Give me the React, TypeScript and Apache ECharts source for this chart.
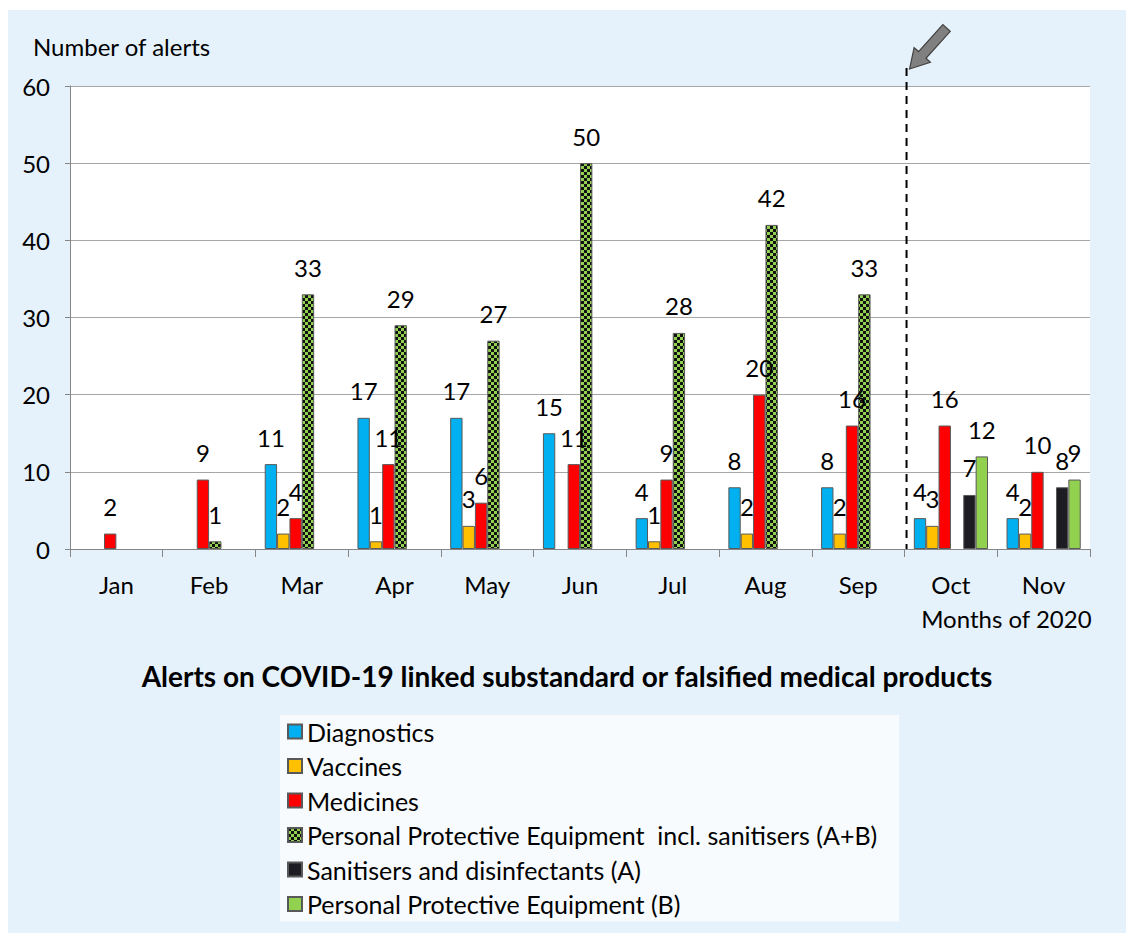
import React, { useEffect, useRef } from "react";
import * as echarts from "echarts";

const months = ["Jan", "Feb", "Mar", "Apr", "May", "Jun", "Jul", "Aug", "Sep", "Oct", "Nov"];
const diagnostics = [null, null, 11, 17, 17, 15, 4, 8, 8, 4, 4];
const vaccines = [null, null, 2, 1, 3, null, 1, 2, 2, 3, 2];
const medicines = [2, 9, 4, 11, 6, 11, 9, 20, 16, 16, 10];
const ppeTotal = [null, 1, 33, 29, 27, 50, 28, 42, 33, null, null];
const sanitisers = [null, null, null, null, null, null, null, null, null, 7, 8];
const ppeB = [null, null, null, null, null, null, null, null, null, 12, 9];
const yTicks = { min: 0, max: 60, interval: 10 };

const FONT = "Lato, 'Noto Sans', sans-serif";
const FS = 24;

function checker(): HTMLCanvasElement {
  const c = document.createElement("canvas");
  c.width = 6;
  c.height = 6;
  const ctx = c.getContext("2d")!;
  ctx.fillStyle = "#92D050";
  ctx.fillRect(0, 0, 6, 6);
  ctx.fillStyle = "#111111";
  ctx.fillRect(0, 0, 3, 3);
  ctx.fillRect(3, 3, 3, 3);
  return c;
}

export default function App() {
  const ref = useRef<HTMLDivElement>(null);
  useEffect(() => {
    if (!ref.current) return;
    const chart = echarts.init(ref.current, undefined, { renderer: "svg" });
    const pattern = { image: checker(), repeat: "repeat" } as any;
    const mk = (name: string, data: (number | null)[], color: any) => ({
      name,
      type: "bar",
      data,
      barGap: "0%",
      barCategoryGap: "20%",
      itemStyle: { color, borderColor: "#595959", borderWidth: 1 },
      label: {
        show: true,
        position: "top",
        distance: 15,
        fontSize: FS,
        fontFamily: FONT,
        color: "#000",
      },
    });
    chart.setOption({
      animation: false,
      backgroundColor: "#E6F2FB",
      textStyle: { fontFamily: FONT },
      title: [
        {
          text: "Alerts on COVID-19 linked substandard or falsified medical products",
          left: "center",
          top: 652,
          padding: 0,
          textStyle: { fontSize: 28, fontWeight: "bold", color: "#000", fontFamily: FONT },
        },
        {
          text: "Number of alerts",
          left: 25,
          top: 24,
          padding: 0,
          textStyle: { fontSize: FS, fontWeight: "normal", color: "#000", fontFamily: FONT },
        },
        {
          text: "Months of 2020",
          right: 34,
          top: 596,
          padding: 0,
          textStyle: { fontSize: FS, fontWeight: "normal", color: "#000", fontFamily: FONT },
        },
      ],
      grid: {
        left: 62,
        right: 36,
        top: 76,
        bottom: 384,
        show: true,
        backgroundColor: "#FFFFFF",
        borderWidth: 0,
      },
      legend: {
        orient: "vertical",
        left: 272,
        top: 705,
        padding: [4, 22, 5, 7],
        backgroundColor: "#F7FBFE",
        itemWidth: 14,
        itemHeight: 14,
        itemGap: 9.5,
        icon: "rect",
        textStyle: { fontSize: 25, lineHeight: 25, color: "#000", fontFamily: FONT },
        data: [
          "Diagnostics",
          "Vaccines",
          "Medicines",
          "Personal Protective Equipment  incl. sanitisers (A+B)",
          "Sanitisers and disinfectants (A)",
          "Personal Protective Equipment (B)",
        ],
      },
      xAxis: {
        type: "category",
        data: months,
        axisLine: { lineStyle: { color: "#868686", width: 1 } },
        axisTick: { show: true, length: 8, lineStyle: { color: "#868686" } },
        axisLabel: { fontSize: FS, color: "#000", margin: 23, fontFamily: FONT },
      },
      yAxis: {
        type: "value",
        min: yTicks.min,
        max: yTicks.max,
        interval: yTicks.interval,
        axisLine: { show: true, lineStyle: { color: "#868686", width: 1 } },
        axisTick: { show: true, length: 5, lineStyle: { color: "#868686" } },
        axisLabel: { fontSize: FS, color: "#000", margin: 20, fontFamily: FONT },
        splitLine: { lineStyle: { color: "#A6A6A6", width: 1 } },
      },
      series: [
        mk("Diagnostics", diagnostics, "#00B0F0"),
        mk("Vaccines", vaccines, "#FFC000"),
        mk("Medicines", medicines, "#FF0000"),
        mk("Personal Protective Equipment  incl. sanitisers (A+B)", ppeTotal, pattern),
        mk("Sanitisers and disinfectants (A)", sanitisers, "#1C1C22"),
        mk("Personal Protective Equipment (B)", ppeB, "#92D050"),
      ],
    });

    // dashed separator between Sep and Oct, plus arrow
    const xa = chart.convertToPixel({ xAxisIndex: 0 }, "Sep") as number;
    const xb = chart.convertToPixel({ xAxisIndex: 0 }, "Oct") as number;
    const lx = (xa + xb) / 2 + 2;
    const yBottom = chart.convertToPixel({ yAxisIndex: 0 }, 0) as number;
    const yTopPlot = chart.convertToPixel({ yAxisIndex: 0 }, 60) as number;
    const lineTop = yTopPlot - 18;
    const tip = [lx + 3, lineTop + 1];
    const dx = 37, dy = -41;
    const L = Math.sqrt(dx * dx + dy * dy);
    const u = [dx / L, dy / L];
    const n = [-u[1], u[0]];
    const P = (a: number, b: number) => [tip[0] + u[0] * a + n[0] * b, tip[1] + u[1] * a + n[1] * b];
    const pts = [P(0, 0), P(19, 11), P(19, 5), P(L, 5), P(L, -5), P(19, -5), P(19, -11)];
    chart.setOption({
      graphic: [
        {
          type: "line",
          shape: { x1: lx, y1: lineTop, x2: lx, y2: yBottom },
          style: { stroke: "#000", lineWidth: 2, lineDash: [8, 6] },
          z: 100,
        },
        {
          type: "polygon",
          shape: { points: pts },
          style: { fill: "#808080", stroke: "#404040", lineWidth: 1.2 },
          z: 100,
        },
      ],
    });
    return () => chart.dispose();
  }, []);
  return (
    <div style={{ paddingTop: 2 }}>
      <div ref={ref} style={{ width: 1118, height: 923 }} />
    </div>
  );
}
